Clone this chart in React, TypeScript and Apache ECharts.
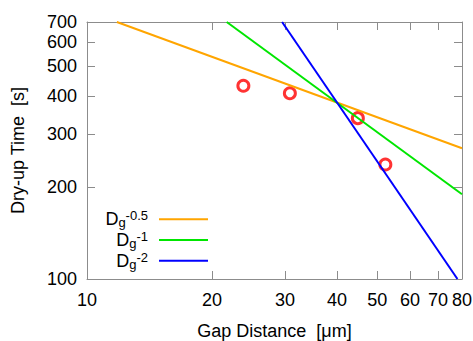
import React, { useEffect, useRef } from 'react';
import * as echarts from 'echarts';

// Measured points
const gapDistance = [23.8, 30.8, 44.9, 52.3]; // µm
const dryUpTime = [432, 408, 338, 238]; // s

// Power-law guide lines (endpoints)
const fitNames = ['Dg^-0.5', 'Dg^-1', 'Dg^-2'];
const fitExponents = ['-0.5', '-1', '-2'];
const fitGap = [
  [11.8, 80],
  [21.7, 80],
  [29.5, 78],
];
const fitTime = [
  [700, 269],
  [700, 190],
  [700, 100],
];

// Axes
const xTicks = [10, 20, 30, 40, 50, 60, 70, 80];
const yTicks = [100, 200, 300, 400, 500, 600, 700];
const xRange = [10, 80];
const yRange = [100, 700];

const fitColors = ['#ffa500', '#00e600', '#0000ff'];
const FONT = '"Liberation Sans", Arial, Helvetica, sans-serif';
const AXIS_GRAY = '#8c8c8c';

const lg = (v: number) => Math.log10(v);
const fmt = (v: number) => String(Math.round(Math.pow(10, v)));

export default function App() {
  const ref = useRef<HTMLDivElement>(null);

  useEffect(() => {
    if (!ref.current) return;
    const chart = echarts.init(ref.current, undefined, { renderer: 'svg' });

    const xTickVals = xTicks.map(lg);
    const yTickVals = yTicks.map(lg);

    const axisCommon = {
      type: 'value' as const,
      splitLine: { show: false },
      axisLine: { show: true, onZero: false, lineStyle: { color: AXIS_GRAY, width: 1 } },
    };

    const xAxisBase = {
      ...axisCommon,
      min: lg(xRange[0]),
      max: lg(xRange[1]),
      axisTick: { show: true, inside: true, length: 8, customValues: xTickVals, lineStyle: { color: AXIS_GRAY } },
    };
    const yAxisBase = {
      ...axisCommon,
      min: lg(yRange[0]),
      max: lg(yRange[1]),
      axisTick: { show: true, inside: true, length: 8, customValues: yTickVals, lineStyle: { color: AXIS_GRAY } },
    };

    const option: any = {
      animation: false,
      backgroundColor: '#ffffff',
      textStyle: { fontFamily: FONT },
      grid: { left: 87, right: 11, top: 22, bottom: 62, containLabel: false, outerBoundsMode: 'none' },
      xAxis: [
        {
          ...xAxisBase,
          position: 'bottom',
          name: 'Gap Distance  [μm]',
          nameLocation: 'middle',
          nameGap: 43,
          nameTextStyle: { fontSize: 18, color: '#000', fontFamily: FONT },
          axisLabel: {
            show: true,
            customValues: xTickVals,
            formatter: fmt,
            margin: 12,
            fontSize: 18,
            color: '#000',
            fontFamily: FONT,
            showMinLabel: true,
            showMaxLabel: true,
            hideOverlap: false,
          },
        },
        {
          ...xAxisBase,
          position: 'top',
          axisLabel: { show: false },
        },
      ],
      yAxis: [
        {
          ...yAxisBase,
          position: 'left',
          name: 'Dry-up Time  [s]',
          nameLocation: 'middle',
          nameGap: 60,
          nameTextStyle: { fontSize: 18, color: '#000', fontFamily: FONT },
          axisLabel: {
            show: true,
            customValues: yTickVals,
            formatter: fmt,
            margin: 10,
            fontSize: 18,
            color: '#000',
            fontFamily: FONT,
            showMinLabel: true,
            showMaxLabel: true,
            hideOverlap: false,
          },
        },
        {
          ...yAxisBase,
          position: 'right',
          axisLabel: { show: false },
        },
      ],
      legend: {
        show: true,
        orient: 'vertical',
        right: 265,
        top: 209.3,
        align: 'right',
        padding: 0,
        icon: 'rect',
        itemWidth: 49,
        itemHeight: 2,
        itemGap: 0.7,
        selectedMode: false,
        data: fitNames.map((name) => ({ name, icon: 'rect' })),
        formatter: (name: string) => {
          const i = fitNames.indexOf(name);
          return `{d|D}{g|g}{s|${fitExponents[i]}}`;
        },
        textStyle: {
          color: '#000',
          fontFamily: FONT,
          rich: {
            d: { fontSize: 18, lineHeight: 20, verticalAlign: 'middle', color: '#000', fontFamily: FONT },
            g: { fontSize: 13, lineHeight: 11, verticalAlign: 'bottom', color: '#000', fontFamily: FONT },
            s: { fontSize: 13, lineHeight: 12, verticalAlign: 'top', color: '#000', fontFamily: FONT, padding: [0, 6, 0, 0] },
          },
        },
      },
      series: [
        {
          name: 'data',
          type: 'scatter',
          xAxisIndex: 0,
          yAxisIndex: 0,
          symbol: 'circle',
          symbolSize: 11,
          itemStyle: { color: 'rgba(0,0,0,0)', borderColor: '#ff0000', borderWidth: 3 },
          data: gapDistance.map((g, i) => [lg(g), lg(dryUpTime[i])]),
          silent: true,
        },
        ...fitNames.map((name, k) => ({
          name,
          type: 'line',
          xAxisIndex: 0,
          yAxisIndex: 0,
          symbol: 'none',
          showSymbol: false,
          clip: true,
          silent: true,
          lineStyle: { color: fitColors[k], width: 2 },
          itemStyle: { color: fitColors[k] },
          data: fitGap[k].map((g, i) => [lg(g), lg(fitTime[k][i])]),
        })),
      ],
    };

    chart.setOption(option);
    return () => chart.dispose();
  }, []);

  return (
    <div
      ref={ref}
      style={{ position: 'absolute', left: 0, top: 0, width: 473, height: 341, background: '#fff' }}
    />
  );
}
